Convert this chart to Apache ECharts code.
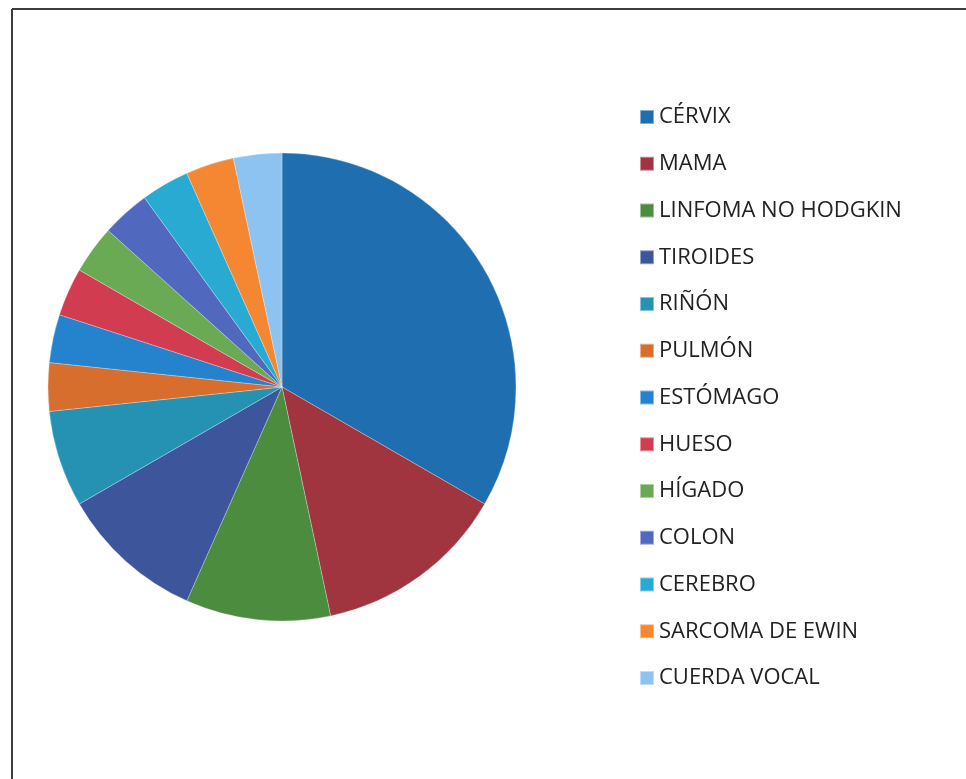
<!DOCTYPE html>
<html>
<head>
<meta charset="utf-8">
<title>Tipos de cáncer</title>
<script src="https://cdn.jsdelivr.net/npm/echarts@6/dist/echarts.min.js"></script>
<style>
  html, body { margin: 0; padding: 0; background: #ffffff; }
  #chart { width: 966px; height: 779px; }
</style>
</head>
<body>
<div id="chart"></div>
<script>
// Cases by cancer site
const categories = [
  'CÉRVIX', 'MAMA', 'LINFOMA NO HODGKIN', 'TIROIDES', 'RIÑÓN', 'PULMÓN',
  'ESTÓMAGO', 'HUESO', 'HÍGADO', 'COLON', 'CEREBRO', 'SARCOMA DE EWIN', 'CUERDA VOCAL'
];
const values = [10, 4, 3, 3, 2, 1, 1, 1, 1, 1, 1, 1, 1];

// Slice colours, one per category
const palette = [
  '#1F6EAF', '#A0343F', '#4C8C3E', '#3D559B', '#2592B4', '#D76E2E',
  '#2583CE', '#D23C50', '#6AAA55', '#5069BE', '#28AAD2', '#F58732', '#8CC3F0'
];

const chart = echarts.init(document.getElementById('chart'), null, { renderer: 'canvas' });

chart.setOption({
  animation: false,
  backgroundColor: '#ffffff',
  color: palette,
  legend: {
    orient: 'vertical',
    left: 634,
    top: 101,
    icon: 'rect',
    itemWidth: 14,
    itemHeight: 14,
    itemGap: 24.75,
    selectedMode: false,
    data: categories,
    textStyle: {
      fontFamily: 'Open Sans',
      fontSize: 22,
      lineHeight: 22,
      color: '#222222'
    }
  },
  graphic: [
    {
      type: 'line',
      shape: { x1: 12, y1: 9, x2: 966, y2: 9 },
      style: { stroke: '#3c3c3c', lineWidth: 2 }
    },
    {
      type: 'line',
      shape: { x1: 12, y1: 9, x2: 12, y2: 779 },
      style: { stroke: '#3c3c3c', lineWidth: 2 }
    }
  ],
  series: [{
    type: 'pie',
    center: [282, 387],
    radius: 234,
    startAngle: 90,
    clockwise: true,
    label: { show: false },
    labelLine: { show: false },
    emphasis: { disabled: true },
    itemStyle: { borderColor: 'rgba(255,255,255,0.45)', borderWidth: 0.6 },
    data: categories.map((name, i) => ({ name: name, value: values[i] }))
  }]
});
</script>
</body>
</html>
